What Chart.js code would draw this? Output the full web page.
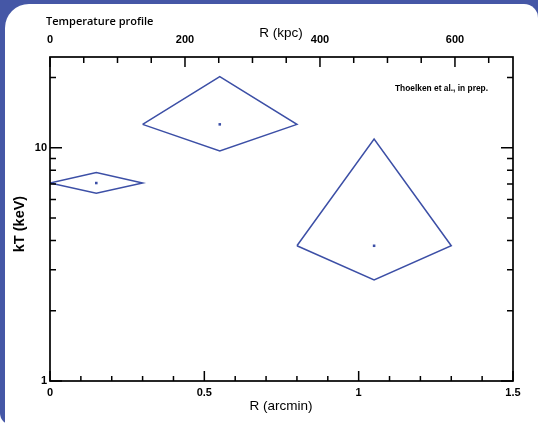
<!DOCTYPE html>
<html lang="en">
<head>
    <meta charset="UTF-8">
    <title>Temperature profile</title>
    <style>
        body { margin: 0; background: #fff; }
        #wrap { width: 538px; height: 425px; }
    </style>
</head>
<body>
    <div id="wrap"><canvas id="tempChart" width="538" height="425"></canvas></div>
    <script src="https://cdn.jsdelivr.net/npm/chart.js"></script>
    <script>
        // measured values (R in arcmin, kT in keV)
        const radius = [0.15, 0.55, 1.05];
        const radiusLo = [0, 0.3, 0.8];
        const radiusHi = [0.3, 0.8, 1.3];
        const kT = [7.06, 12.6, 3.8];
        const kTLo = [6.39, 9.7, 2.71];
        const kTHi = [7.83, 20.2, 10.9];

        // axis ticks
        const arcminTicks = [0, 0.1, 0.2, 0.3, 0.4, 0.5, 0.6, 0.7, 0.8, 0.9, 1, 1.1, 1.2, 1.3, 1.4, 1.5];
        const arcminMajor = [0, 0.5, 1, 1.5];
        const kpcTicks = [0, 50, 100, 150, 200, 250, 300, 350, 400, 450, 500, 550, 600, 650];
        const kpcMajor = [0, 200, 400, 600];
        const kTTicks = [1, 2, 3, 4, 5, 6, 7, 8, 9, 10, 20];
        const kTMajor = [1, 10];
        const kpcMax = 686;
        const kTMax = 24.5;

        const lineBlue = '#3c4fa6';
        const tickFont = { family: 'Liberation Sans', size: 11, weight: 'bold' };

        const isMajor = (list, v) => list.some(m => Math.abs(m - v) < 1e-6);

        const datasets = radius.map((r, i) => ({
            data: [
                { x: radiusLo[i], y: kT[i] },
                { x: r, y: kTHi[i] },
                { x: radiusHi[i], y: kT[i] },
                { x: r, y: kTLo[i] },
                { x: radiusLo[i], y: kT[i] }
            ],
            showLine: true,
            borderColor: lineBlue,
            borderWidth: 1.5,
            pointRadius: 0,
            fill: false,
            tension: 0
        }));
        datasets.push({
            data: radius.map((r, i) => ({ x: r, y: kT[i] })),
            pointStyle: 'rect',
            pointRadius: 1.8,
            backgroundColor: lineBlue,
            borderColor: lineBlue,
            borderWidth: 0
        });

        // background panel, ticks and texts
        const framePlugin = {
            id: 'frame',
            beforeDraw(chart) {
                const c = chart.ctx;
                c.save();
                c.fillStyle = '#fff';
                c.fillRect(0, 0, chart.width, chart.height);
                c.fillStyle = '#4557a6';
                c.beginPath();
                c.roundRect(0, 0, chart.width, chart.height, [0, 0, 0, 12]);
                c.fill();
                c.fillStyle = '#fff';
                c.beginPath();
                c.roundRect(5, 4, chart.width - 5, chart.height + 40, [24, 14, 0, 0]);
                c.fill();
                c.restore();
            },
            afterDraw(chart) {
                const c = chart.ctx;
                const a = chart.chartArea;
                c.save();
                c.strokeStyle = '#000';
                c.lineWidth = 1.7;
                c.strokeRect(a.left, a.top, a.right - a.left, a.bottom - a.top);

                c.lineWidth = 1.5;
                c.beginPath();
                const sx = chart.scales.x, sx2 = chart.scales.x2, sy = chart.scales.y;
                arcminTicks.forEach(v => {
                    const p = sx.getPixelForValue(v);
                    const len = isMajor(arcminMajor, v) ? 10 : 5;
                    c.moveTo(p, a.bottom); c.lineTo(p, a.bottom - len);
                });
                kpcTicks.forEach(v => {
                    const p = sx2.getPixelForValue(v);
                    const len = isMajor(kpcMajor, v) ? 10 : 6;
                    c.moveTo(p, a.top); c.lineTo(p, a.top + len);
                });
                kTTicks.forEach(v => {
                    const p = sy.getPixelForValue(v);
                    const len = isMajor(kTMajor, v) ? 12 : 6;
                    c.moveTo(a.left, p); c.lineTo(a.left + len, p);
                    c.moveTo(a.right, p); c.lineTo(a.right - len, p);
                });
                c.stroke();

                c.fillStyle = '#000';
                c.textBaseline = 'middle';
                c.font = '600 11px "Open Sans"';
                c.textAlign = 'left';
                c.fillText('Temperature profile', 46, 22);
                c.font = '13.5px "Liberation Sans"';
                c.textAlign = 'center';
                c.fillText('R (kpc)', 281, 33);
                c.fillText('R (arcmin)', 281, 406);
                c.font = 'bold 8.4px "Liberation Sans"';
                c.textAlign = 'right';
                c.fillText('Thoelken et al., in prep.', 488, 89);
                c.translate(20, 224);
                c.rotate(-Math.PI / 2);
                c.font = 'bold 14.5px "Liberation Sans"';
                c.textAlign = 'center';
                c.fillText('kT (keV)', 0, 0);
                c.restore();
            }
        };

        new Chart(document.getElementById('tempChart'), {
            type: 'scatter',
            data: { datasets: datasets },
            options: {
                responsive: false,
                animation: false,
                layout: { padding: { right: 25, left: 0, top: 0, bottom: 0 } },
                plugins: { legend: { display: false }, tooltip: { enabled: false } },
                scales: {
                    x: {
                        type: 'linear',
                        position: 'bottom',
                        min: 0,
                        max: 1.5,
                        afterBuildTicks: s => { s.ticks = arcminTicks.map(v => ({ value: v })); },
                        afterFit: s => { s.height = 44; },
                        grid: { display: false, drawTicks: false },
                        border: { display: false },
                        ticks: {
                            autoSkip: false,
                            maxRotation: 0,
                            padding: 5,
                            color: '#000',
                            font: tickFont,
                            callback: v => isMajor(arcminMajor, v) ? String(+v.toFixed(1)) : ''
                        }
                    },
                    x2: {
                        type: 'linear',
                        position: 'top',
                        min: 0,
                        max: kpcMax,
                        afterBuildTicks: s => { s.ticks = kpcTicks.map(v => ({ value: v })); },
                        afterFit: s => { s.height = 57; },
                        grid: { display: false, drawTicks: false },
                        border: { display: false },
                        ticks: {
                            autoSkip: false,
                            maxRotation: 0,
                            padding: 10,
                            color: '#000',
                            font: tickFont,
                            callback: v => isMajor(kpcMajor, v) ? String(v) : ''
                        }
                    },
                    y: {
                        type: 'logarithmic',
                        position: 'left',
                        min: 1,
                        max: kTMax,
                        afterBuildTicks: s => { s.ticks = kTTicks.map(v => ({ value: v })); },
                        afterFit: s => { s.width = 50; },
                        grid: { display: false, drawTicks: false },
                        border: { display: false },
                        ticks: {
                            autoSkip: false,
                            padding: 3,
                            color: '#000',
                            font: tickFont,
                            callback: v => isMajor(kTMajor, v) ? String(v) : ''
                        }
                    }
                }
            },
            plugins: [framePlugin]
        });
    </script>
</body>
</html>
